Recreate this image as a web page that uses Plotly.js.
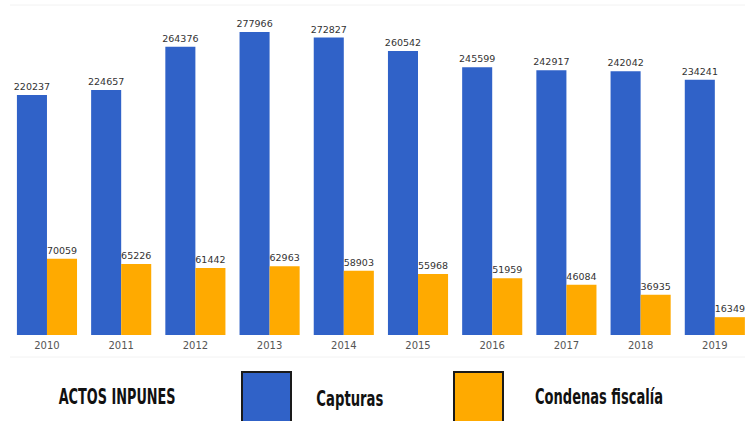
<!DOCTYPE html>
<html>
<head>
<meta charset="utf-8">
<script src="https://cdn.plot.ly/plotly-3.0.1.min.js"></script>
<style>html,body{margin:0;padding:0;background:#fff;}#chart{width:748px;height:421px;}</style>
</head>
<body>
<div id="chart"></div>
<script>
const years = ['2010','2011','2012','2013','2014','2015','2016','2017','2018','2019'];
const capturas = [220237,224657,264376,277966,272827,260542,245599,242917,242042,234241];
const condenas = [70059,65226,61442,62963,58903,55968,51959,46084,36935,16349];
const seriesNames = ['Capturas','Condenas fiscalía'];
const legendTitle = 'ACTOS INPUNES';

const blue = '#3062C8';
const orange = '#FFAA00';
const labelFont = {family:'DejaVu Sans', size:9.5, color:'#333'};

const traces = [
  {type:'bar', x:years, y:capturas, name:seriesNames[0], marker:{color:blue},
   text:capturas.map(String), textposition:'outside', textfont:labelFont, constraintext:'none', cliponaxis:false, hoverinfo:'x+y'},
  {type:'bar', x:years, y:condenas, name:seriesNames[1], marker:{color:orange},
   text:condenas.map(String), textposition:'outside', textfont:labelFont, constraintext:'none', cliponaxis:false, hoverinfo:'x+y'}
];

const H = 335; // plot height in px
function py(p){ return (H - p) / H; }
function px(p){ return p / 748; }

const legendFont = {family:'DejaVu Sans', size:22, color:'#111', weight:700};

const layout = {
  width:748, height:421,
  margin:{l:0, r:0, t:0, b:86},
  paper_bgcolor:'#fff', plot_bgcolor:'#fff',
  barmode:'group', bargap:0.19, bargroupgap:0,
  showlegend:false,
  xaxis:{type:'category', range:[-0.633, 9.447], showgrid:false, zeroline:false, showline:false,
         ticks:'', ticklabelstandoff:3, tickfont:{family:'DejaVu Sans', size:10, color:'#555'}},
  yaxis:{range:[0, 307310], visible:false, fixedrange:true},
  shapes:[
    {type:'line', xref:'paper', yref:'paper', x0:px(10), x1:px(745), y0:py(5), y1:py(5), line:{color:'#f2f2f2', width:1}},
    {type:'line', xref:'paper', yref:'paper', x0:px(10), x1:px(745), y0:py(357), y1:py(357), line:{color:'#f2f2f2', width:1}},
    {type:'rect', xref:'paper', yref:'paper', x0:px(242), x1:px(291), y0:py(372), y1:py(424), fillcolor:blue, line:{color:'#1a1a1a', width:2}},
    {type:'rect', xref:'paper', yref:'paper', x0:px(454), x1:px(503), y0:py(372), y1:py(424), fillcolor:orange, line:{color:'#1a1a1a', width:2}}
  ],
  annotations:[
    {xref:'paper', yref:'paper', x:px(116.5), y:py(397), xanchor:'center', yanchor:'middle', showarrow:false, text:legendTitle, font:legendFont},
    {xref:'paper', yref:'paper', x:px(349.5), y:py(398), xanchor:'center', yanchor:'middle', showarrow:false, text:seriesNames[0], font:legendFont},
    {xref:'paper', yref:'paper', x:px(599), y:py(397), xanchor:'center', yanchor:'middle', showarrow:false, text:seriesNames[1], font:legendFont}
  ]
};

const textWidths = [117, 67, 128];
Plotly.newPlot('chart', traces, layout, {staticPlot:true, displayModeBar:false}).then(function(){
  document.querySelectorAll('#chart .annotation-text').forEach(function(t, i){
    if (textWidths[i]) {
      t.setAttribute('textLength', textWidths[i]);
      t.setAttribute('lengthAdjust', 'spacingAndGlyphs');
    }
  });
});
</script>
</body>
</html>
